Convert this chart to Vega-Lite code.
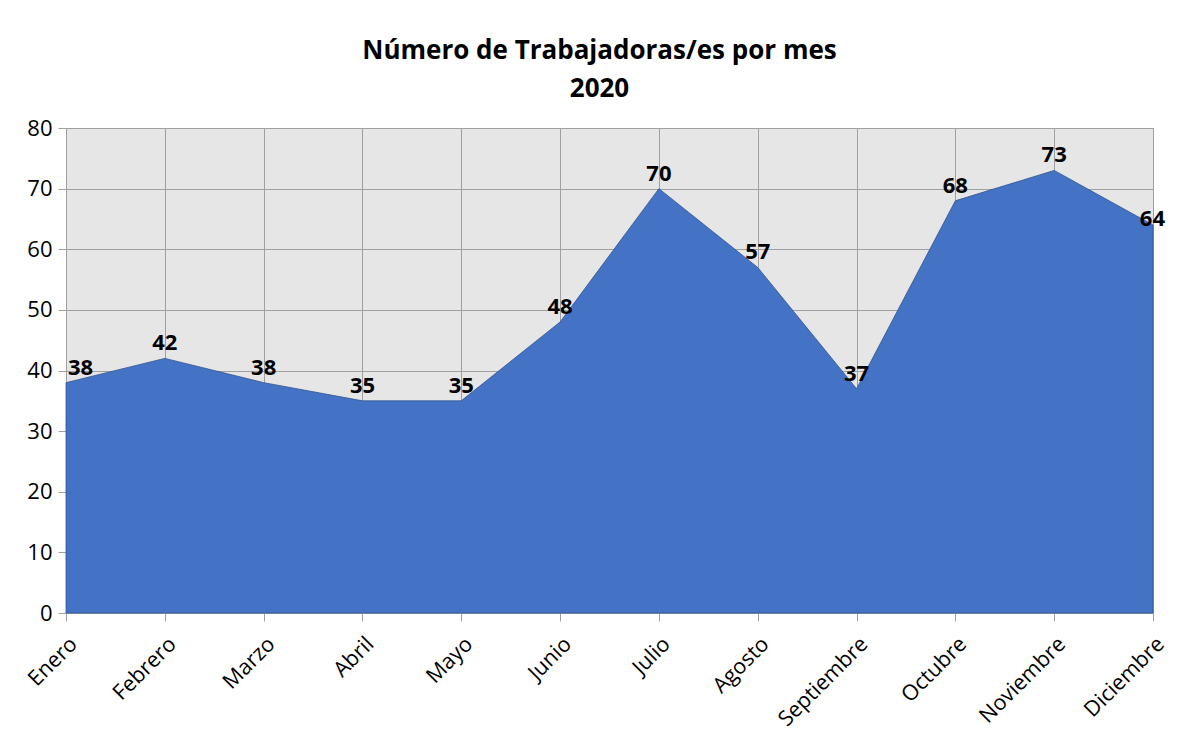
{
  "$schema": "https://vega.github.io/schema/vega-lite/v6.json",
  "width": 1087,
  "height": 485,
  "autosize": {"type": "none"},
  "padding": {"left": 66, "top": 128, "right": 37, "bottom": 134},
  "background": "white",
  "config": {
    "font": "Open Sans",
    "view": {"fill": "#e7e6e6", "stroke": "#a0a0a0", "strokeWidth": 1}
  },
  "title": {
    "text": ["Número de Trabajadoras/es por mes", "2020"],
    "font": "Open Sans",
    "fontSize": 26,
    "fontWeight": "bold",
    "color": "#000000",
    "anchor": "middle",
    "dx": -10,
    "offset": 15,
    "lineHeight": 38
  },
  "data": {
    "values": [
      {"mes": "Enero", "n": 38},
      {"mes": "Febrero", "n": 42},
      {"mes": "Marzo", "n": 38},
      {"mes": "Abril", "n": 35},
      {"mes": "Mayo", "n": 35},
      {"mes": "Junio", "n": 48},
      {"mes": "Julio", "n": 70},
      {"mes": "Agosto", "n": 57},
      {"mes": "Septiembre", "n": 37},
      {"mes": "Octubre", "n": 68},
      {"mes": "Noviembre", "n": 73},
      {"mes": "Diciembre", "n": 64}
    ]
  },
  "encoding": {
    "x": {
      "field": "mes",
      "type": "ordinal",
      "sort": null,
      "scale": {"type": "point", "padding": 0},
      "axis": {
        "title": null,
        "labelAngle": -45,
        "labelFontSize": 21.5,
        "labelColor": "#000000",
        "labelFont": "Open Sans",
        "labelPadding": 12,
        "grid": true,
        "gridColor": "#a0a0a0",
        "gridWidth": 1,
        "domainColor": "#a0a0a0",
        "tickColor": "#a0a0a0",
        "tickSize": 8
      }
    },
    "y": {
      "field": "n",
      "type": "quantitative",
      "scale": {"domain": [0, 80], "nice": false},
      "axis": {
        "title": null,
        "values": [0, 10, 20, 30, 40, 50, 60, 70, 80],
        "labelFontSize": 22,
        "labelColor": "#000000",
        "labelFont": "Open Sans",
        "labelPadding": 6,
        "grid": true,
        "gridColor": "#a0a0a0",
        "gridWidth": 1,
        "domainColor": "#a0a0a0",
        "tickColor": "#a0a0a0",
        "tickSize": 8
      }
    }
  },
  "layer": [
    {
      "mark": {"type": "area", "color": "#4472c4", "stroke": "#2f528f", "strokeWidth": 0.8, "opacity": 1}
    },
    {
      "transform": [{"filter": "datum.mes == 'Enero'"}],
      "mark": {"type": "text", "fontSize": 22, "fontWeight": "bold", "font": "Open Sans", "color": "#000000", "align": "left", "baseline": "middle", "dy": -15, "dx": 2},
      "encoding": {"text": {"field": "n", "type": "quantitative"}}
    },
    {
      "transform": [{"filter": "datum.mes != 'Enero' && datum.mes != 'Diciembre'"}],
      "mark": {"type": "text", "fontSize": 22, "fontWeight": "bold", "font": "Open Sans", "color": "#000000", "align": "center", "baseline": "middle", "dy": -15},
      "encoding": {"text": {"field": "n", "type": "quantitative"}}
    },
    {
      "transform": [{"filter": "datum.mes == 'Diciembre'"}],
      "mark": {"type": "text", "fontSize": 22, "fontWeight": "bold", "font": "Open Sans", "color": "#000000", "align": "right", "baseline": "middle", "dy": -6, "dx": 12},
      "encoding": {"text": {"field": "n", "type": "quantitative"}}
    }
  ]
}
